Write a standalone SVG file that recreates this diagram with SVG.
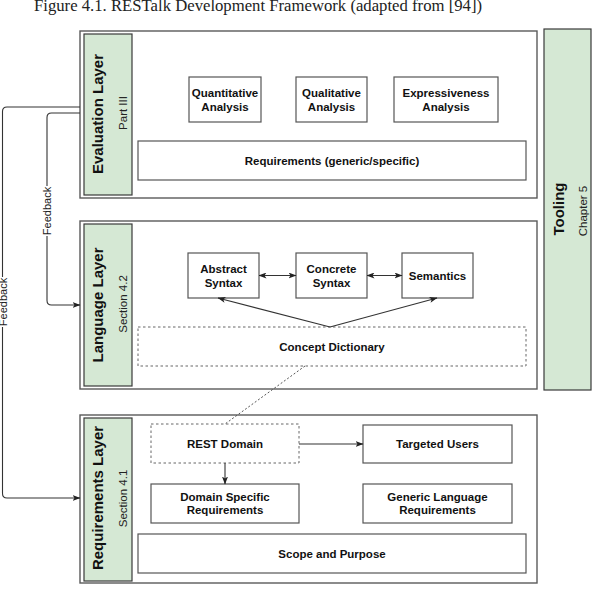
<svg xmlns="http://www.w3.org/2000/svg" width="594" height="589" viewBox="0 0 594 589">
  <style>
    .title { font-family: "Liberation Serif", "Times New Roman", serif; font-size: 16.6px; fill: #222; }
    .layer { fill: #ffffff; stroke: #5a5a5a; stroke-width: 1.4; }
    .panel { fill: #d5e8d4; stroke: #3a3a3a; stroke-width: 1.2; }
    .box { fill: #ffffff; stroke: #555555; stroke-width: 1.2; }
    .dashbox { fill: #ffffff; stroke: #666666; stroke-width: 1; stroke-dasharray: 2.5 2.5; }
    .lbl { font-family: "Liberation Sans", Arial, Helvetica, sans-serif; font-size: 11.5px; font-weight: bold; fill: #111; text-anchor: middle; }
    .vhead { font-family: "Liberation Sans", Arial, Helvetica, sans-serif; font-size: 15px; font-weight: bold; fill: #111; text-anchor: middle; dominant-baseline: central; }
    .vsub { font-family: "Liberation Sans", Arial, Helvetica, sans-serif; font-size: 11.5px; fill: #222; text-anchor: middle; dominant-baseline: central; }
    .fb { font-family: "Liberation Sans", Arial, Helvetica, sans-serif; font-size: 11px; fill: #222; text-anchor: middle; dominant-baseline: central; }
    .edge { fill: none; stroke: #333333; stroke-width: 1.1; }
    .dotted { fill: none; stroke: #555555; stroke-width: 1; stroke-dasharray: 2 2; }
  </style>
  <defs>
    <marker id="arrow" viewBox="0 0 8 6" refX="7.5" refY="3" markerWidth="8" markerHeight="6" markerUnits="userSpaceOnUse" orient="auto-start-reverse">
      <path d="M0,0 L8,3 L0,6 L2,3 z" fill="#222"/>
    </marker>
  </defs>

  <rect width="594" height="589" fill="#ffffff"/>

  <text class="title" x="258" y="11" text-anchor="middle" textLength="448" lengthAdjust="spacingAndGlyphs">Figure 4.1. RESTalk Development Framework (adapted from [94])</text>

  <!-- Evaluation layer -->
  <g id="evaluation-layer">
    <rect class="layer" x="80" y="31" width="457" height="167"/>
    <rect class="panel" x="84" y="34" width="48" height="161"/>
    <text class="vhead" transform="translate(97,114) rotate(-90)">Evaluation Layer</text>
    <text class="vsub" transform="translate(123,113) rotate(-90)">Part III</text>
  </g>
  <g id="quantitative-analysis">
    <rect class="box" x="189" y="77" width="72" height="45"/>
    <text class="lbl" x="225" y="97">Quantitative</text>
    <text class="lbl" x="225" y="110.5">Analysis</text>
  </g>
  <g id="qualitative-analysis">
    <rect class="box" x="296" y="77" width="71" height="45"/>
    <text class="lbl" x="331.5" y="97">Qualitative</text>
    <text class="lbl" x="331.5" y="110.5">Analysis</text>
  </g>
  <g id="expressiveness-analysis">
    <rect class="box" x="394" y="77" width="104" height="45"/>
    <text class="lbl" x="446" y="97">Expressiveness</text>
    <text class="lbl" x="446" y="110.5">Analysis</text>
  </g>
  <g id="requirements-generic-specific">
    <rect class="box" x="138" y="141" width="388" height="39"/>
    <text class="lbl" x="332" y="164.5">Requirements (generic/specific)</text>
  </g>

  <!-- Tooling column -->
  <g id="tooling">
    <rect class="panel" x="544" y="29" width="47" height="361"/>
    <text class="vhead" transform="translate(558,209) rotate(-90)">Tooling</text>
    <text class="vsub" transform="translate(583,211) rotate(-90)">Chapter 5</text>
  </g>

  <!-- Language layer -->
  <g id="language-layer">
    <rect class="layer" x="80" y="221" width="457" height="168"/>
    <rect class="panel" x="84" y="224" width="48" height="162"/>
    <text class="vhead" transform="translate(97,305) rotate(-90)">Language Layer</text>
    <text class="vsub" transform="translate(123,304) rotate(-90)">Section 4.2</text>
  </g>
  <g id="abstract-syntax">
    <rect class="box" x="188" y="253" width="71" height="45"/>
    <text class="lbl" x="223.5" y="273">Abstract</text>
    <text class="lbl" x="223.5" y="286.5">Syntax</text>
  </g>
  <g id="concrete-syntax">
    <rect class="box" x="296" y="253" width="71" height="45"/>
    <text class="lbl" x="331.5" y="273">Concrete</text>
    <text class="lbl" x="331.5" y="286.5">Syntax</text>
  </g>
  <g id="semantics">
    <rect class="box" x="402" y="253" width="71" height="45"/>
    <text class="lbl" x="437.5" y="279.5">Semantics</text>
  </g>
  <g id="concept-dictionary">
    <rect class="dashbox" x="138" y="327" width="388" height="39"/>
    <text class="lbl" x="332" y="350.5">Concept Dictionary</text>
  </g>

  <!-- Requirements layer -->
  <g id="requirements-layer">
    <rect class="layer" x="80" y="415" width="457" height="168"/>
    <rect class="panel" x="84" y="418" width="48" height="163"/>
    <text class="vhead" transform="translate(97,498) rotate(-90)">Requirements Layer</text>
    <text class="vsub" transform="translate(123,498.5) rotate(-90)">Section 4.1</text>
  </g>
  <g id="rest-domain">
    <rect class="dashbox" x="151" y="424" width="148" height="39"/>
    <text class="lbl" x="225" y="447.5">REST Domain</text>
  </g>
  <g id="targeted-users">
    <rect class="box" x="363" y="425" width="149" height="38"/>
    <text class="lbl" x="437.5" y="448">Targeted Users</text>
  </g>
  <g id="domain-specific-requirements">
    <rect class="box" x="151" y="484" width="148" height="39"/>
    <text class="lbl" x="225" y="500.5">Domain Specific</text>
    <text class="lbl" x="225" y="514">Requirements</text>
  </g>
  <g id="generic-language-requirements">
    <rect class="box" x="363" y="484" width="149" height="39"/>
    <text class="lbl" x="437.5" y="500.5">Generic Language</text>
    <text class="lbl" x="437.5" y="514">Requirements</text>
  </g>
  <g id="scope-and-purpose">
    <rect class="box" x="138" y="534" width="388" height="39"/>
    <text class="lbl" x="332" y="557.5">Scope and Purpose</text>
  </g>

  <!-- Connectors -->
  <g id="connectors">
    <line class="edge" x1="259" y1="275.5" x2="296" y2="275.5" marker-start="url(#arrow)" marker-end="url(#arrow)"/>
    <line class="edge" x1="367" y1="275.5" x2="402" y2="275.5" marker-start="url(#arrow)" marker-end="url(#arrow)"/>
    <line class="edge" x1="330" y1="327" x2="218" y2="298" marker-end="url(#arrow)"/>
    <line class="edge" x1="330" y1="327" x2="437" y2="298" marker-end="url(#arrow)"/>
    <line class="dotted" x1="305" y1="366" x2="225" y2="424"/>
    <line class="edge" x1="299" y1="444" x2="363" y2="444" marker-end="url(#arrow)"/>
    <line class="edge" x1="225" y1="463" x2="225" y2="484" marker-end="url(#arrow)"/>

    <!-- feedback from evaluation to requirements -->
    <path class="edge" d="M80,107 H7 Q2.5,107 2.5,111.5 V493.5 Q2.5,498 7,498 H80" marker-end="url(#arrow)"/>
    <rect x="-4" y="277" width="13" height="50" fill="#ffffff"/>
    <text class="fb" transform="translate(2.5,302) rotate(-90)">Feedback</text>

    <!-- feedback from evaluation to language -->
    <path class="edge" d="M80,113 H51.5 Q47,113 47,117.5 V300.5 Q47,305 51.5,305 H80" marker-end="url(#arrow)"/>
    <rect x="40.5" y="186" width="13" height="50" fill="#ffffff"/>
    <text class="fb" transform="translate(47,211) rotate(-90)">Feedback</text>
  </g>
</svg>
